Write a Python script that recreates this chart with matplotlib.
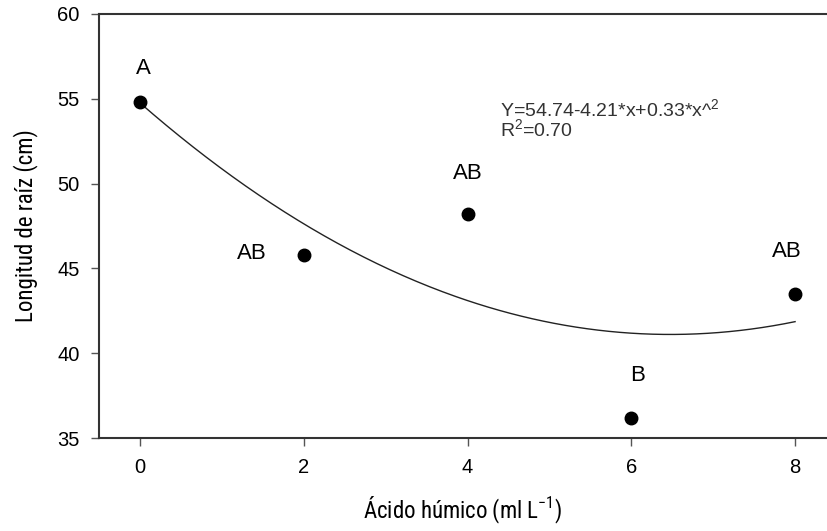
import matplotlib
matplotlib.use('Agg')
import matplotlib.pyplot as plt
import numpy as np

# data
dosis = [0, 2, 4, 6, 8]
longitud = [54.8, 45.8, 48.2, 36.2, 43.5]
letras = ['A', 'AB', 'AB', 'B', 'AB']
letra_x = [0.04, 1.37, 4.0, 6.07, 7.9]
letra_y = [56.8, 45.9, 50.6, 38.7, 46.0]
coef_fit = np.polyfit(dosis, longitud, 2)   # gives Y=54.74-4.21*x+0.33*x^2

plt.rcParams['font.family'] = ['Liberation Sans', 'DejaVu Sans']
narrow = ['Liberation Sans Narrow', 'Roboto Condensed', 'Liberation Sans', 'DejaVu Sans']

fig = plt.figure(figsize=(8.27, 5.31), dpi=100)
ax = fig.add_axes([0.12, 0.175, 0.88, 0.799])

z = np.linspace(0, 8, 300)
ax.plot(z, np.polyval(coef_fit, z), '-', color='#222222', lw=1.0)
ax.plot(dosis, longitud, 'o', color='black', ms=9)

for xi, yi, t in zip(letra_x, letra_y, letras):
    ax.text(xi, yi, t, ha='center', va='center', fontsize=16)

ax.text(4.4, 53.8, 'Y=54.74-4.21*x+0.33*x^$\\mathregular{^{2}}$\nR$\\mathregular{^{2}}$=0.70',
        ha='left', va='center', fontsize=14, color='#333333', linespacing=0.9)

ax.set_xlim(-0.5, 8.39)
ax.set_ylim(35, 60)
ax.set_xticks([0, 2, 4, 6, 8])
ax.set_yticks([35, 40, 45, 50, 55, 60])
ax.tick_params(direction='out', length=6, width=1, color='#555555', labelsize=14.5, pad=8)
for s in ['left', 'bottom', 'top']:
    ax.spines[s].set_linewidth(1.5)
    ax.spines[s].set_color('#333333')
ax.spines['right'].set_visible(False)

ax.set_xlabel('Ácido húmico (ml L$\\mathregular{^{-1}}$)', fontsize=16.5, family=narrow, labelpad=13)
ax.set_ylabel('Longitud de raíz (cm)', fontsize=16.5, family=narrow, labelpad=14)

fig.savefig('out.png', dpi=100)
